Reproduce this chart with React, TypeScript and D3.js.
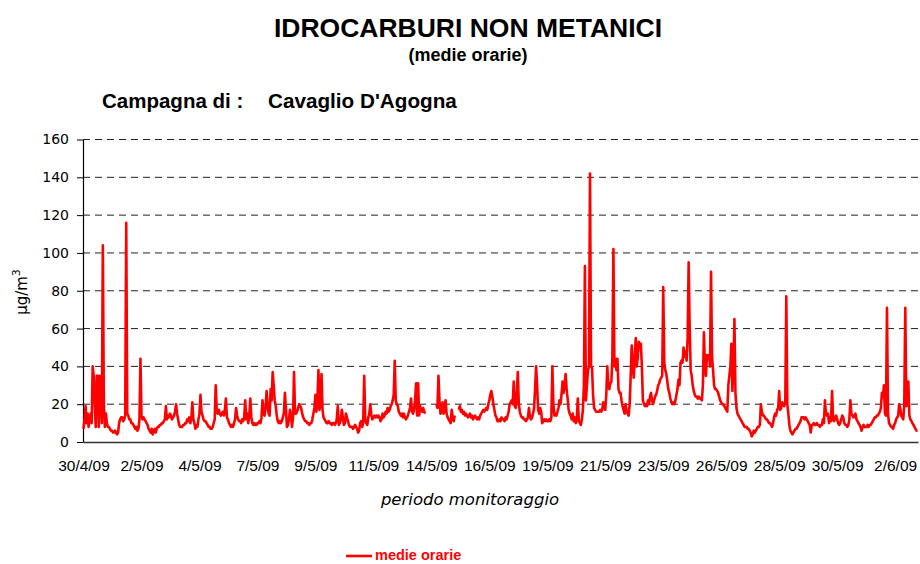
import React, { useEffect, useRef } from 'react';
import * as d3 from 'd3';

// hourly means, 30/4/09 00:00 onward (null = missing)
const day00 = [7, 12, 19, 10, 15, 8, 12, 15, 10, 40, 35, 20, 8, 35, 35, 8, 35, 30, 10, 104, 20, 8, 15, 10];
const day01 = [8, 8, 7, 6, 6, 5, 5, 6, 5, 4, 5, 10, 12, 13, 13, 11, 12, 14, 116, 15, 14, 12, 12, 10];
const day02 = [10, 9, 8, 7, 8, 6, 7, 12, 44, 14, 12, 13, 12, 11, 10, 9, 7, 6, 5, 7, 4, 6, 7, 5];
const day03 = [7, 8, 8, 9, 9, 10, 10, 11, 12, 19, 12, 14, 13, 15, 14, 12, 13, 14, 16, 20, 15, 12, 9, 8];
const day04 = [8, 8, 9, 9, 10, 10, 12, 11, 13, 10, 12, 21, 12, 10, 7, 9, 8, 12, 15, 25, 16, 14, 12, 11];
const day05 = [11, 10, 9, 8, 8, 7, 7, 8, 10, 12, 30, 16, 15, 17, 15, 14, 15, 16, 14, 17, 23, 13, 12, 10];
const day06 = [9, 8, 9, 8, 10, 12, 18, 14, 12, 11, 11, 10, 12, 11, 13, 22, 12, 15, 10, 14, 23, 13, 10, 9];
const day07 = [10, 9, 9, 10, 10, 11, 10, 13, 22, 15, 14, 18, 27, 20, 15, 14, 28, 22, 37, 30, 22, 19, 14, 11];
const day08 = [10, 11, 10, 11, 13, 15, 26, 18, 8, 9, 12, 17, 14, 8, 13, 37, 15, 15, 16, 18, 20, 19, 18, 15];
const day09 = [13, 12, 11, 11, 10, 10, 9, 10, 10, 12, 15, 18, 25, 16, 22, 38, 17, 20, 36, 17, 13, 12, 11, 10];
const day10 = [10, 11, 10, 10, 9, 10, 10, 9, 10, 12, 19, 9, 10, 12, 17, 13, 9, 10, 15, 13, 11, 9, 8, 8];
const day11 = [8, 7, 8, 9, 8, 7, 5, 6, 10, 11, 8, 10, 35, 12, 10, 9, 13, 15, 20, 14, 12, 13, 14, 13];
const day12 = [14, 13, 14, 13, 11, 12, 15, 13, 14, 16, 15, 18, 16, 17, 19, 20, 22, 25, 43, 22, 20, 19, 16, 15];
const day13 = [14, 15, 13, 15, 13, 12, 13, 14, 16, 18, 23, 16, 15, 17, 22, 31, 14, 31, 14, 19, 17, 16, 18, 16];
const day14 = [15, null, null, null, null, null, null, null, null, null, null, 20, 18, 35, 22, 15, 16, 21, 15, 17, 22, 15, 13, 12];
const day15 = [11, 10, 17, 13, 11, 14, null, null, null, 17, 19, 16, 17, 15, 16, 14, 15, 14, 13, 14, 15, 13, 14, 12];
const day16 = [13, 14, 13, 12, 13, 12, 14, 15, 16, 17, 16, 17, 18, 17, 20, 22, 25, 27, 24, 20, 17, 14, 13, 11];
const day17 = [11, 12, 11, 13, 12, 12, 11, 13, 12, 14, 16, 20, 21, 22, 20, 32, 19, 18, 25, 37, 20, 16, 14, 13];
const day18 = [13, 12, 12, 11, 12, 13, 18, 13, 12, 13, 15, 18, 28, 40, 30, 17, 15, 18, 16, 10, 11, 12, 11, 12];
const day19 = [11, 11, 12, 11, 13, 40, 20, 14, 15, 14, 16, 18, 22, 20, 25, 32, 26, 30, 36, 28, 23, 17, 15, 14];
const day20 = [12, 15, 11, 13, 10, 12, 23, 11, 10, 9, 12, 17, 30, 93, 22, 30, 38, 40, 142, 40, 39, 25, 18, 17];
const day21 = [16, 16, 16, 16, 17, 16, 17, 21, 19, 17, 25, 40, 30, 28, 31, 32, 45, 102, 40, 44, 38, 44, 28, 26];
const day22 = [26, 22, 19, 17, 15, 20, 16, 15, 14, 20, 35, 51, 40, 34, 45, 55, 40, 45, 53, 50, 52, 40, 22, 20];
const day23 = [19, 20, 19, 22, 20, 24, 26, 22, 20, 22, 24, 25, 27, 30, 31, 33, 34, 35, 82, 42, 38, 36, 32, 28];
const day24 = [26, 23, 21, 20, 21, 20, 22, 25, 28, 33, 30, 42, 43, 42, 50, 45, 48, 43, 55, 95, 60, 38, 35, 30];
const day25 = [27, 25, 24, 24, 23, 24, 23, 23, 22, 30, 58, 40, 35, 46, 44, 46, 40, 90, 45, 38, 30, 28, 28, 27];
const day26 = [26, 24, 22, 21, 20, 20, 19, 18, 17, 16, 30, 35, 40, 52, 27, 40, 65, 26, 18, 15, 14, 13, 12, 11];
const day27 = [10, 9, 8, 8, 8, 7, 7, 6, 5, 3, 4, 6, 5, 6, 7, 8, 8, 9, 20, 16, 14, 14, 13, 12];
const day28 = [12, 11, 10, 10, 9, 8, 10, 13, 15, 14, 17, 18, 27, 17, 18, 21, 20, 19, 21, 77, 20, 15, 9, 6];
const day29 = [5, 4, 5, 6, 7, 7, 8, 9, 10, 11, 13, 13, 13, 12, 13, 12, 11, 10, 9, 5, 9, 9, 10, 9];
const day30 = [9, 10, 9, 9, 8, 9, 9, 12, 10, 22, 15, 14, 15, 10, 13, 11, 27, 12, 11, 13, 14, 12, 10, 9];
const day31 = [10, 12, 14, 13, 10, 9, 9, 8, 9, 12, 22, 15, 14, 13, 14, 15, 12, 11, 10, 9, 8, 6, 8, 9];
const day32 = [8, 8, 8, 9, 8, 9, 9, 10, 11, 12, 13, 13, 14, 14, 15, 16, 18, 26, 24, 30, 15, 14, 71, 15];
const day33 = [10, 9, 8, 8, 7, 9, 10, 12, 13, 14, 20, 18, 14, 13, 12, 20, 71, 19, 20, 32, 14, 12, 11, 10];
const day34 = [9, 8, 7, 6, 6];

const hourly: (number | null)[] = [
  ...day00, ...day01, ...day02, ...day03, ...day04, ...day05, ...day06, ...day07, ...day08,
  ...day09, ...day10, ...day11, ...day12, ...day13, ...day14, ...day15, ...day16, ...day17,
  ...day18, ...day19, ...day20, ...day21, ...day22, ...day23, ...day24, ...day25, ...day26,
  ...day27, ...day28, ...day29, ...day30, ...day31, ...day32, ...day33, ...day34,
];

const tickLabels = [
  '30/4/09', '2/5/09', '4/5/09', '7/5/09', '9/5/09', '11/5/09', '14/5/09', '16/5/09',
  '19/5/09', '21/5/09', '23/5/09', '26/5/09', '28/5/09', '30/5/09', '2/6/09',
];
const tickStep = 57; // one label every 57 hours
const yTicks = [0, 20, 40, 60, 80, 100, 120, 140, 160];

const W = 920;
const H = 564;
const left = 83;
const right = 918;
const top = 139.5;
const bottom = 442;
const comic = "'Comic Sans MS', 'DejaVu Sans', sans-serif";
const arial = "'Liberation Sans', Arial, sans-serif";

export default function App() {
  const ref = useRef<SVGGElement>(null);

  useEffect(() => {
    const g = d3.select(ref.current);
    g.selectAll('*').remove();

    const x = d3.scaleLinear().domain([0, hourly.length]).range([left, right]);
    const y = d3.scaleLinear().domain([0, 160]).range([bottom, top]);

    // dashed gridlines
    g.append('g')
      .selectAll('line')
      .data(yTicks.slice(1))
      .join('line')
      .attr('x1', left)
      .attr('x2', right)
      .attr('y1', (d) => y(d))
      .attr('y2', (d) => y(d))
      .attr('stroke', '#222')
      .attr('stroke-width', 1)
      .attr('stroke-dasharray', '7,5');

    // y axis
    const gy = g
      .append('g')
      .attr('transform', `translate(${left},0)`)
      .call(d3.axisLeft(y).tickValues(yTicks).tickSize(6).tickSizeOuter(0).tickPadding(8));
    gy.select('.domain').attr('stroke', '#000').attr('stroke-width', 1.2);
    gy.selectAll('.tick line').attr('stroke', '#000');
    gy.selectAll('text')
      .attr('font-family', comic)
      .attr('font-size', 14)
      .attr('fill', '#000');

    // x axis (category labels, no tick marks)
    const gx = g
      .append('g')
      .attr('transform', `translate(0,${bottom})`)
      .call(
        d3
          .axisBottom(x)
          .tickValues(tickLabels.map((_, k) => k * tickStep + 0.5))
          .tickFormat((_, k) => tickLabels[k])
          .tickSize(0)
          .tickSizeOuter(0)
          .tickPadding(18)
      );
    gx.select('.domain').attr('stroke', '#333').attr('stroke-width', 1.5);
    gx.selectAll('text')
      .attr('font-family', arial)
      .attr('font-size', 15.5)
      .attr('fill', '#000');

    // hourly line
    const line = d3
      .line<number | null>()
      .defined((d) => d != null)
      .x((_, i) => x(i + 0.5))
      .y((d) => y(d as number));
    g.append('path')
      .datum(hourly)
      .attr('d', line)
      .attr('fill', 'none')
      .attr('stroke', '#ff0000')
      .attr('stroke-width', 2.6)
      .attr('stroke-linejoin', 'round');
  }, []);

  return (
    <svg
      width={W}
      height={H}
      style={{ position: 'absolute', left: 0, top: 0, background: '#fff' }}
    >
      <text x={468} y={37} textAnchor="middle" fontFamily={arial} fontWeight="bold" fontSize={26.5}>
        IDROCARBURI NON METANICI
      </text>
      <text x={468} y={61} textAnchor="middle" fontFamily={arial} fontWeight="bold" fontSize={18}>
        (medie orarie)
      </text>
      <text x={102} y={108} fontFamily={arial} fontWeight="bold" fontSize={20.5}>
        Campagna di :
      </text>
      <text x={268} y={108} fontFamily={arial} fontWeight="bold" fontSize={20.7}>
        Cavaglio D'Agogna
      </text>
      <text
        transform="translate(27,292) rotate(-90)"
        textAnchor="middle"
        fontFamily={comic}
        fontSize={15}
      >
        μg/m<tspan dy={-7} fontSize={11}>3</tspan>
      </text>
      <g ref={ref} />
      <text
        x={470}
        y={505}
        textAnchor="middle"
        fontFamily={comic}
        fontStyle="italic"
        fontSize={16.5}
      >
        periodo monitoraggio
      </text>
      <line x1={346} x2={372} y1={556} y2={556} stroke="#ff0000" strokeWidth={2.6} />
      <text x={375} y={560} fontFamily={arial} fontWeight="bold" fontSize={14.5} fill="#ff0000">
        medie orarie
      </text>
    </svg>
  );
}
